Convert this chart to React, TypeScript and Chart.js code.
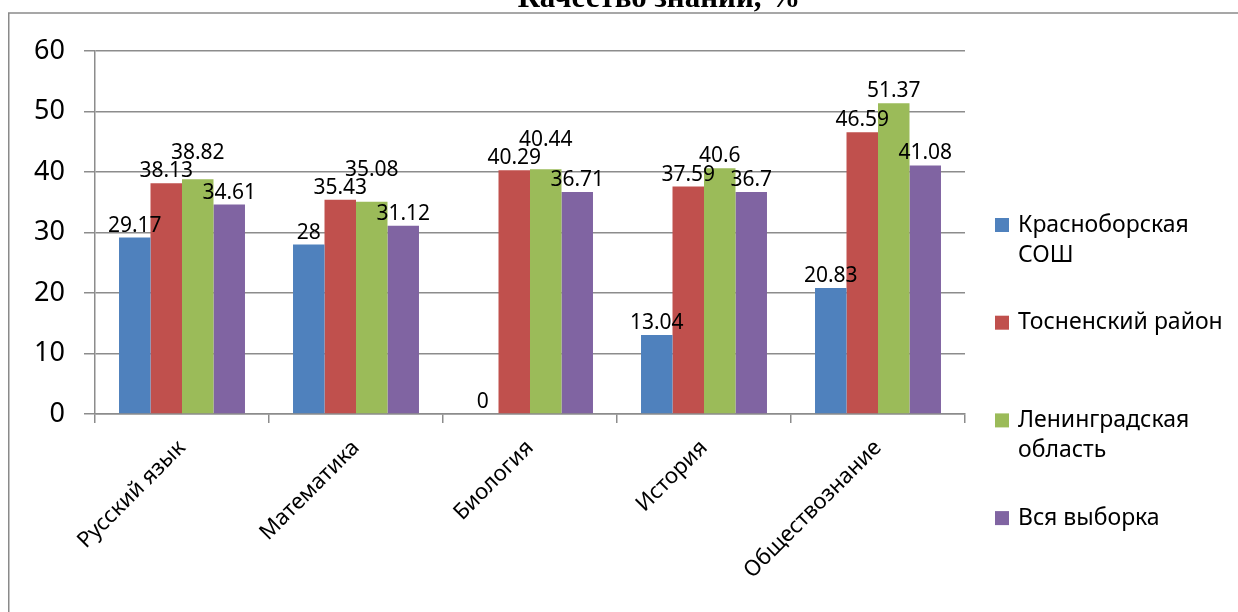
import React, { useEffect, useRef } from "react";
import { Chart, registerables } from "chart.js";

Chart.register(...registerables);

const chartTitle = "Качество знаний, %";
const categories = ["Русский язык", "Математика", "Биология", "История", "Обществознание"];
const seriesNames = ["Красноборская СОШ", "Тосненский район", "Ленинградская область", "Вся выборка"];
const krasnoborskayaSosh = [29.17, 28, 0, 13.04, 20.83];
const tosnenskyRayon = [38.13, 35.43, 40.29, 37.59, 46.59];
const leningradOblast = [38.82, 35.08, 40.44, 40.6, 51.37];
const vsyaVyborka = [34.61, 31.12, 36.71, 36.7, 41.08];
const yTickValues = [0, 10, 20, 30, 40, 50, 60];
const seriesColors = ["#4F81BD", "#C0504D", "#9BBB59", "#8064A2"];

const FONT = '"Noto Sans", "DejaVu Sans", sans-serif';
const GRID = "#8c8c8c";

const framePlugin = {
  id: "frame",
  beforeDraw(chart: any) {
    const ctx = chart.ctx;
    ctx.save();
    ctx.fillStyle = "#ffffff";
    ctx.fillRect(0, 0, chart.width, chart.height);
    ctx.strokeStyle = "#8a8a8a";
    ctx.lineWidth = 1.5;
    ctx.strokeRect(8.75, 13, 2000, 2000);
    ctx.fillStyle = "#000";
    ctx.font = 'bold 31px "Liberation Serif", "Times New Roman", serif';
    ctx.textAlign = "center";
    ctx.textBaseline = "alphabetic";
    ctx.fillText(chartTitle, 659, 7);
    ctx.restore();
  },
};

const valueLabelPlugin = {
  id: "valueLabels",
  afterDatasetsDraw(chart: any) {
    const ctx = chart.ctx;
    ctx.save();
    ctx.font = "21px " + FONT;
    ctx.fillStyle = "#000";
    ctx.textAlign = "center";
    ctx.textBaseline = "alphabetic";
    const h = 15;
    const nCat = chart.data.labels.length;
    const nDs = chart.data.datasets.length;
    for (let i = 0; i < nCat; i++) {
      const placed: { cx: number; w: number; base: number }[] = [];
      for (let d = 0; d < nDs; d++) {
        const el = chart.getDatasetMeta(d).data[i];
        const v = chart.data.datasets[d].data[i];
        const text = String(v);
        const w = ctx.measureText(text).width;
        const cx = el.x;
        let base = el.y - 6;
        let moved = true;
        let guard = 0;
        while (moved && guard < 20) {
          moved = false;
          guard++;
          for (const p of placed) {
            const hOverlap = Math.abs(cx - p.cx) < (w + p.w) / 2 - 6;
            const vOverlap = base > p.base - h - 2 && base - h - 2 < p.base;
            if (hOverlap && vOverlap) {
              base = p.base - h - 3;
              moved = true;
            }
          }
        }
        placed.push({ cx, w, base });
        ctx.fillText(text, cx, base);
      }
    }
    ctx.restore();
  },
};

const legendPlugin = {
  id: "sideLegend",
  afterDraw(chart: any) {
    const ctx = chart.ctx;
    ctx.save();
    ctx.font = "23px " + FONT;
    ctx.textBaseline = "middle";
    ctx.textAlign = "left";
    const boxX = chart.chartArea.right + 30;
    const textX = boxX + 23;
    const top = 225;
    const step = 97.7;
    const lineH = 30;
    const maxW = 212;
    chart.data.datasets.forEach((ds: any, idx: number) => {
      const y = top + idx * step;
      ctx.fillStyle = ds.backgroundColor;
      ctx.fillRect(boxX, y - 7, 14, 14);
      const words = String(ds.label).split(" ");
      const lines: string[] = [];
      let cur = "";
      for (const wd of words) {
        const test = cur ? cur + " " + wd : wd;
        if (cur && ctx.measureText(test).width > maxW) {
          lines.push(cur);
          cur = wd;
        } else {
          cur = test;
        }
      }
      if (cur) lines.push(cur);
      ctx.fillStyle = "#000";
      lines.forEach((ln, k) => ctx.fillText(ln, textX, y + k * lineH));
    });
    ctx.restore();
  },
};

export default function App() {
  const ref = useRef<HTMLCanvasElement | null>(null);
  useEffect(() => {
    if (!ref.current) return;
    const seriesValues = [krasnoborskayaSosh, tosnenskyRayon, leningradOblast, vsyaVyborka];
    const chart = new Chart(ref.current, {
      type: "bar",
      data: {
        labels: categories,
        datasets: seriesNames.map((name, i) => ({
          label: name,
          data: seriesValues[i],
          backgroundColor: seriesColors[i],
          borderWidth: 0,
          categoryPercentage: 0.724,
          barPercentage: 1,
        })),
      },
      options: {
        responsive: false,
        animation: false,
        layout: { padding: { top: 51, right: 273, left: 0, bottom: 0 } },
        plugins: {
          legend: { display: false },
          title: { display: false },
          tooltip: { enabled: false },
        },
        scales: {
          x: {
            offset: true,
            grid: {
              display: true,
              drawOnChartArea: false,
              drawTicks: true,
              tickLength: 9,
              color: GRID,
              lineWidth: 1.5,
              offset: true,
            },
            border: { display: true, color: GRID, width: 1.5 },
            ticks: {
              autoSkip: false,
              maxRotation: 45,
              minRotation: 45,
              color: "#000",
              padding: 12,
              font: { family: FONT, size: 22 },
            },
            afterFit: (s: any) => {
              s.height = 198;
            },
          },
          y: {
            min: 0,
            max: 60,
            afterBuildTicks: (s: any) => {
              s.ticks = yTickValues.map((v) => ({ value: v }));
            },
            grid: {
              color: GRID,
              lineWidth: 1.5,
              drawTicks: true,
              tickLength: 11,
            },
            border: { display: true, color: GRID, width: 1.5 },
            ticks: {
              color: "#000",
              padding: 19,
              font: { family: FONT, size: 27 },
            },
            afterFit: (s: any) => {
              s.width = 95;
            },
          },
        },
      },
      plugins: [framePlugin, valueLabelPlugin, legendPlugin],
    });
    return () => chart.destroy();
  }, []);
  return (
    <div style={{ position: "fixed", left: 0, top: 0, width: 1238, height: 612, background: "#fff" }}>
      <canvas ref={ref} width={1238} height={612} style={{ display: "block" }} />
    </div>
  );
}
